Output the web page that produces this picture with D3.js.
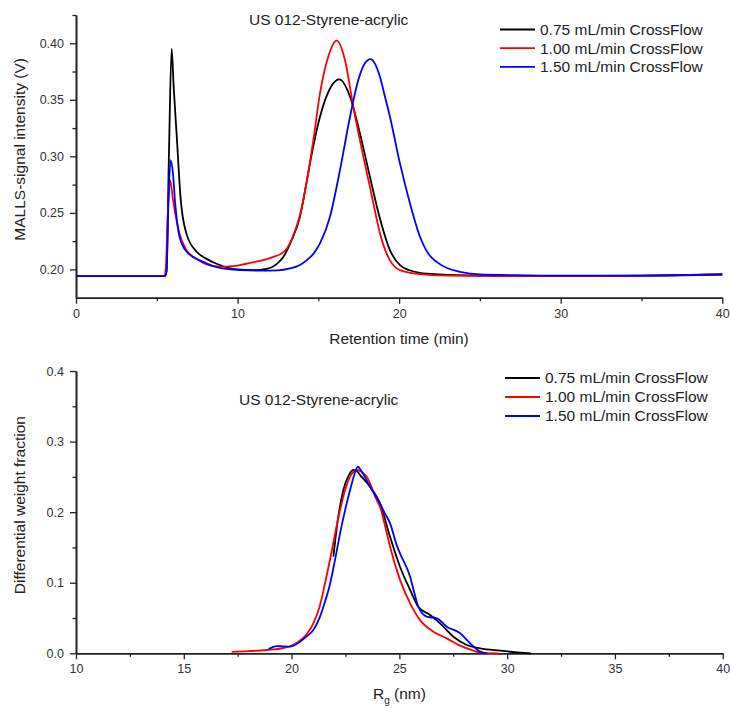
<!DOCTYPE html>
<html>
<head>
<meta charset="utf-8">
<script src="https://cdn.jsdelivr.net/npm/d3@7"></script>
<style>
  html, body { margin: 0; padding: 0; background: #fff; }
  svg { display: block; font-family: Arial, "Liberation Sans", sans-serif; }
</style>
</head>
<body>
<svg id="chart" width="731" height="708"></svg>
<script>
// ---------- DATA ----------
const seriesNames = ["0.75 mL/min CrossFlow", "1.00 mL/min CrossFlow", "1.50 mL/min CrossFlow"];
const seriesColors = ["#000000", "#ff0000", "#0000ff"];
const chartTitle = "US 012-Styrene-acrylic";

// Top: MALLS signal vs retention time [min, V]
const malls075 = [[0,0.194],[5.5,0.194],[5.6,0.198],[5.75,0.30],[5.92,0.395],[6.05,0.36],[6.23,0.319],[6.48,0.262],[6.85,0.231],[7.47,0.2156],[8.0,0.2100],[8.7,0.2050],[9.5,0.2012],[10.2,0.1998],[10.97,0.1994],[11.8,0.2005],[12.4,0.2045],[12.83,0.211],[13.35,0.226],[13.86,0.2466],[14.27,0.277],[14.48,0.2938],[15.1,0.335],[15.72,0.360],[16.3,0.368],[16.96,0.3527],[17.57,0.3204],[18.19,0.282],[18.81,0.245],[19.43,0.217],[20.05,0.2038],[20.6,0.1995],[21.29,0.197],[22.5,0.1956],[25,0.1945],[30,0.194],[35,0.1945],[40,0.1955]];
const malls100 = [[0,0.194],[5.45,0.194],[5.55,0.20],[5.7,0.255],[5.82,0.279],[6.0,0.262],[6.2,0.245],[6.4,0.232],[6.8,0.218],[7.5,0.209],[8.5,0.203],[9.3,0.2025],[10.15,0.2038],[11,0.2065],[12,0.210],[12.93,0.2165],[13.5,0.232],[13.86,0.248],[14.27,0.277],[14.69,0.3144],[15.1,0.3557],[15.61,0.388],[16.13,0.4023],[16.65,0.385],[17.16,0.344],[17.78,0.300],[18.19,0.273],[18.5,0.252],[18.81,0.232],[19.43,0.208],[20.05,0.1994],[21.29,0.1958],[23,0.1945],[27,0.194],[32,0.194],[36,0.1945],[40,0.1958]];
const malls150 = [[0,0.194],[5.5,0.194],[5.6,0.198],[5.72,0.26],[5.86,0.2967],[6.0,0.285],[6.13,0.260],[6.39,0.230],[6.85,0.2156],[7.88,0.2067],[8.5,0.203],[9.3,0.2005],[10.15,0.1994],[11.5,0.1990],[12.5,0.1992],[13.24,0.2009],[13.8,0.2035],[14.27,0.208],[14.7,0.214],[15.1,0.223],[15.72,0.2466],[16.34,0.288],[16.96,0.335],[17.47,0.3675],[17.88,0.3823],[18.23,0.386],[18.5,0.382],[18.81,0.3704],[19.1,0.354],[19.43,0.335],[20.05,0.2938],[20.67,0.2584],[21.29,0.2289],[21.8,0.214],[22.32,0.2067],[23.0,0.201],[23.76,0.1979],[25,0.1955],[26.86,0.195],[30,0.1945],[35,0.1945],[40,0.1955]];

// Bottom: differential weight fraction vs Rg [nm, fraction]
const dist075 = [[21.94,0.137],[22.15,0.19],[22.4,0.231],[22.65,0.252],[22.87,0.2597],[23.0,0.259],[23.18,0.2525],[23.64,0.236],[24.1,0.2125],[24.57,0.165],[25.03,0.1227],[25.5,0.0897],[25.88,0.066],[26.43,0.0543],[26.89,0.0425],[27.51,0.0235],[28.13,0.0118],[28.75,0.007],[29.68,0.0037],[30.6,0.001],[31.1,0]];
const dist100 = [[17.22,0.002],[18.0,0.003],[18.85,0.0047],[19.5,0.0068],[19.93,0.0100],[20.3,0.016],[20.7,0.027],[21.01,0.0425],[21.3,0.066],[21.55,0.099],[21.8,0.135],[22.02,0.170],[22.25,0.203],[22.48,0.231],[22.71,0.250],[22.87,0.257],[23.02,0.2597],[23.2,0.258],[23.49,0.250],[23.95,0.217],[24.1,0.2077],[24.42,0.170],[24.57,0.151],[25.03,0.104],[25.5,0.0708],[25.96,0.047],[26.58,0.0306],[27.2,0.0212],[27.82,0.0108],[28.44,0.0037],[28.75,0.001],[29.6,0]];
const dist150 = [[18.93,0.006],[19.31,0.0103],[19.6,0.0098],[19.93,0.0094],[20.39,0.0164],[20.7,0.024],[21.01,0.033],[21.32,0.052],[21.55,0.073],[21.79,0.099],[22.0,0.13],[22.25,0.170],[22.5,0.205],[22.71,0.231],[22.9,0.252],[23.07,0.2643],[23.3,0.255],[23.64,0.236],[24.1,0.2125],[24.3,0.200],[24.57,0.184],[24.88,0.153],[25.03,0.1416],[25.5,0.1085],[25.7,0.085],[25.88,0.066],[26.27,0.0519],[26.74,0.0496],[27.2,0.0377],[27.82,0.0283],[28.28,0.0142],[28.75,0.0023],[29.06,0]];

const topXTicks = [0, 10, 20, 30, 40];
const topXMinor = [5, 15, 25, 35];
const topYTicks = [0.20, 0.25, 0.30, 0.35, 0.40];
const topYMinor = [0.225, 0.275, 0.325, 0.375, 0.425];
const botXTicks = [10, 15, 20, 25, 30, 35, 40];
const botXMinor = [12.5, 17.5, 22.5, 27.5, 32.5, 37.5];
const botYTicks = [0.0, 0.1, 0.2, 0.3, 0.4];
const botYMinor = [0.05, 0.15, 0.25, 0.35];

// ---------- DRAW ----------
const svg = d3.select("#chart");
const axisColor = "#222";
const tickTextColor = "#333";
const fs = "15.5px";

function panel(cfg) {
  const g = svg.append("g");
  const x = d3.scaleLinear().domain(cfg.xDomain).range([cfg.left, cfg.right]);
  const y = d3.scaleLinear().domain(cfg.yDomain).range([cfg.bottom, cfg.top]);

  const xAxis = d3.axisBottom(x).tickValues(cfg.xTicks).tickSize(6).tickSizeOuter(0).tickPadding(5)
    .tickFormat(d3.format("d"));
  const xAxisMinor = d3.axisBottom(x).tickValues(cfg.xMinor).tickSize(3.5).tickSizeOuter(0).tickFormat("");
  const yAxis = d3.axisLeft(y).tickValues(cfg.yTicks).tickSize(6).tickSizeOuter(0).tickPadding(6)
    .tickFormat(d3.format(cfg.yFmt));
  const yAxisMinor = d3.axisLeft(y).tickValues(cfg.yMinor).tickSize(3.5).tickSizeOuter(0).tickFormat("");

  [[xAxisMinor, "x"], [xAxis, "x"], [yAxisMinor, "y"], [yAxis, "y"]].forEach(([ax, k]) => {
    const a = g.append("g")
      .attr("transform", k === "x" ? `translate(0,${cfg.bottom})` : `translate(${cfg.left},0)`)
      .call(ax);
    a.selectAll(".domain").attr("stroke", axisColor).attr("stroke-width", 1.6);
    a.selectAll(".tick line").attr("stroke", axisColor).attr("stroke-width", 1.3);
    a.selectAll(".tick text").attr("fill", tickTextColor).style("font-size", "12.5px")
      .style("font-family", "Arial, 'Liberation Sans', sans-serif");
  });

  const line = d3.line().x(d => x(d[0])).y(d => y(d[1])).curve(d3.curveMonotoneX);
  cfg.series.forEach((s, i) => {
    g.append("path").datum(s).attr("d", line)
      .attr("fill", "none").attr("stroke", seriesColors[i])
      .attr("stroke-width", 1.8).attr("stroke-linejoin", "round");
  });

  g.append("text").attr("x", cfg.titleX).attr("y", cfg.titleY)
    .attr("fill", "#222").style("font-size", fs).text(chartTitle);

  seriesNames.forEach((n, i) => {
    const ly = cfg.legY + i * cfg.legDy;
    g.append("line").attr("x1", cfg.legX).attr("x2", cfg.legX + 35).attr("y1", ly).attr("y2", ly)
      .attr("stroke", seriesColors[i]).attr("stroke-width", 1.8);
    g.append("text").attr("x", cfg.legX + 40).attr("y", ly).attr("dy", "0.35em")
      .attr("fill", "#222").style("font-size", fs).text(n);
  });

  g.append("text").attr("transform", `translate(25,${(cfg.top + cfg.bottom) / 2 + cfg.yLabOff}) rotate(-90)`)
    .attr("text-anchor", "middle").attr("fill", "#222").style("font-size", fs).text(cfg.yLabel);
  return { g, x, y };
}

const p1 = panel({
  xDomain: [0, 40], yDomain: [0.175, 0.425],
  left: 76, right: 722.3, top: 15, bottom: 297.7,
  xTicks: topXTicks, xMinor: topXMinor, yTicks: topYTicks, yMinor: topYMinor, yFmt: ".2f",
  series: [malls075, malls100, malls150],
  titleX: 249, titleY: 25, legX: 500, legY: 29.5, legDy: 18.7,
  yLabel: "MALLS-signal intensity (V)", yLabOff: -7
});
p1.g.append("text").attr("x", 399).attr("y", 344).attr("text-anchor", "middle")
  .attr("fill", "#222").style("font-size", fs).text("Retention time (min)");

const p2 = panel({
  xDomain: [10, 40], yDomain: [0, 0.4],
  left: 76, right: 722.7, top: 371, bottom: 653.3,
  xTicks: botXTicks, xMinor: botXMinor, yTicks: botYTicks, yMinor: botYMinor, yFmt: ".1f",
  series: [dist075, dist100, dist150],
  titleX: 239, titleY: 405, legX: 505, legY: 378, legDy: 19,
  yLabel: "Differential weight fraction", yLabOff: -7
});
const rl = p2.g.append("text").attr("x", 373).attr("y", 699)
  .attr("fill", "#222").style("font-size", fs);
rl.append("tspan").text("R");
rl.append("tspan").attr("dy", 5).style("font-size", "10px").text("g");
rl.append("tspan").attr("dy", -5).text(" (nm)");
</script>
</body>
</html>
